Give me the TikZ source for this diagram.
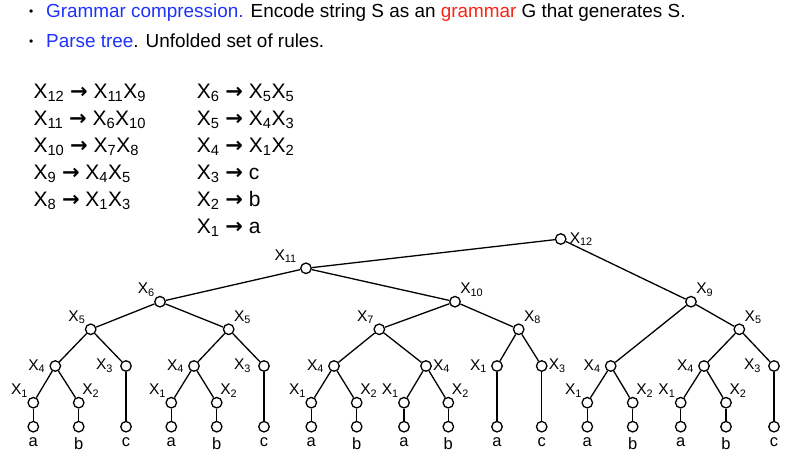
\documentclass[tikz,border=0pt]{standalone}
\usepackage{fontspec}
\setmainfont{Liberation Sans}
\newfontfamily\arrowfont{DejaVu Sans}
\usetikzlibrary{positioning}
\definecolor{termblue}{RGB}{30,50,250}
\definecolor{termred}{RGB}{250,35,20}
\newcommand{\xs}[1]{X\textsubscript{#1}}
\newcommand{\yields}{{\arrowfont\bfseries →}}

\begin{document}
\begin{tikzpicture}[
    x=1pt, y=-1pt,
    vertex/.style={circle, draw, line width=1.3pt, fill=white, minimum size=10.5pt, inner sep=0pt},
    every label/.style={font=\fontsize{15.5}{15.5}\selectfont, inner sep=1pt},
    leaf/.style={vertex, label={[label distance=3.5pt, font=\fontsize{16.5}{16.5}\selectfont]below:#1}},
    rules/.style={font=\fontsize{21}{27}\selectfont, anchor=base west, align=left, inner sep=0pt},
    headline/.style={font=\fontsize{18.9}{22}\selectfont, anchor=base west, inner sep=0pt},
    dot/.style={font=\fontsize{12}{12}\selectfont, anchor=base west, inner sep=0pt},
    edge/.style={line width=1.3pt}
]
\useasboundingbox (0,0) rectangle (795,470);

% Header lines
\node[dot] (b1) at (29,15.5) {•};
\node[headline] (h1) at (46,17.3) {{\color{termblue}Grammar compression.} Encode string S as an {\color{termred}grammar} G that generates S.};
\node[dot] (b2) at (29,45.9) {•};
\node[headline] (h2) at (46,47.7) {{\color{termblue}Parse tree}. Unfolded set of rules.};

% Rules (anchored at the baseline of the last line)
\node[rules] (rl) at (33.3,206.7) {
    \xs{12} \yields{} \xs{11}\xs{9}\\
    \xs{11} \yields{} \xs{6}\xs{10}\\
    \xs{10} \yields{} \xs{7}\xs{8}\\
    \xs{9} \yields{} \xs{4}\xs{5}\\
    \xs{8} \yields{} \xs{1}\xs{3}
};
\node[rules] (rr) at (196.7,233.3) {
    \xs{6} \yields{} \xs{5}\xs{5}\\
    \xs{5} \yields{} \xs{4}\xs{3}\\
    \xs{4} \yields{} \xs{1}\xs{2}\\
    \xs{3} \yields{} c\\
    \xs{2} \yields{} b\\
    \xs{1} \yields{} a
};

% Parse tree - upper levels
\node[vertex, label={[label distance=2pt]right:\xs{12}}] (n12) at (560.7,239) {};
\node[vertex, label={[xshift=-4pt]above left:\xs{11}}] (n11) at (306,268.3) {};
\node[vertex, label=above left:\xs{6}] (n6) at (160,301.7) {};
\node[vertex, label=above right:\xs{10}] (n10) at (455,301.7) {};
\node[vertex, label=above right:\xs{9}] (n9) at (691,301.7) {};
\node[vertex, label=above left:\xs{5}] (n5a) at (90.7,329.3) {};
\node[vertex, label=above right:\xs{5}] (n5b) at (228.7,329.3) {};
\node[vertex, label=above left:\xs{7}] (n7) at (379.3,329.3) {};
\node[vertex, label=above right:\xs{8}] (n8) at (518.7,329.3) {};
\node[vertex, label=above right:\xs{5}] (n5c) at (739.3,329.3) {};

% Parse tree - X4 / X3 level
\node[vertex, label={[label distance=3pt]left:\xs{4}}] (n4a) at (55.3,366) {};
\node[vertex, label={[label distance=6pt]left:\xs{3}}] (n3a) at (126,366) {};
\node[vertex, label={[label distance=3pt]left:\xs{4}}] (n4b) at (194,366) {};
\node[vertex, label={[label distance=6pt]left:\xs{3}}] (n3b) at (264,366) {};
\node[vertex, label={[label distance=3pt]left:\xs{4}}] (n4c) at (334,366) {};
\node[vertex, label=right:\xs{4}] (n4d) at (426,366) {};
\node[vertex, label={[label distance=3pt]left:\xs{1}}] (n1e) at (497,366) {};
\node[vertex, label=right:\xs{3}] (n3e) at (541.7,366) {};
\node[vertex, label={[label distance=3pt]left:\xs{4}}] (n4e) at (610.7,366) {};
\node[vertex, label={[label distance=3pt]left:\xs{4}}] (n4f) at (704,366) {};
\node[vertex, label={[label distance=6pt]left:\xs{3}}] (n3f) at (774,366) {};

% Parse tree - X1 / X2 level
\node[vertex, label=above left:\xs{1}] (n1a) at (33.3,402.7) {};
\node[vertex, label={[label distance=-1pt]60:\xs{2}}] (n2a) at (78.7,402.7) {};
\node[vertex, label=above left:\xs{1}] (n1b) at (171.3,402.7) {};
\node[vertex, label={[label distance=-1pt]60:\xs{2}}] (n2b) at (216.7,402.7) {};
\node[vertex, label=above left:\xs{1}] (n1c) at (311.3,402.7) {};
\node[vertex, label={[label distance=-1pt]60:\xs{2}}] (n2c) at (356.7,402.7) {};
\node[vertex, label=above left:\xs{1}] (n1d) at (404,402.7) {};
\node[vertex, label={[label distance=-1pt]60:\xs{2}}] (n2d) at (448.3,402.7) {};
\node[vertex, label=above left:\xs{1}] (n1f) at (587.3,402.7) {};
\node[vertex, label={[label distance=-1pt]60:\xs{2}}] (n2f) at (632.7,402.7) {};
\node[vertex, label=above left:\xs{1}] (n1g) at (680.7,402.7) {};
\node[vertex, label={[label distance=-1pt]60:\xs{2}}] (n2g) at (726,402.7) {};

% Edges
\draw[edge] (n12) -- (n11);
\draw[edge] (n12) -- (n9);
\draw[edge] (n11) -- (n6);
\draw[edge] (n11) -- (n10);
\draw[edge] (n6) -- (n5a);
\draw[edge] (n6) -- (n5b);
\draw[edge] (n10) -- (n7);
\draw[edge] (n10) -- (n8);
\draw[edge] (n9) -- (n4e);
\draw[edge] (n9) -- (n5c);
\draw[edge] (n5a) -- (n4a);
\draw[edge] (n5a) -- (n3a);
\draw[edge] (n5b) -- (n4b);
\draw[edge] (n5b) -- (n3b);
\draw[edge] (n7) -- (n4c);
\draw[edge] (n7) -- (n4d);
\draw[edge] (n8) -- (n1e);
\draw[edge] (n8) -- (n3e);
\draw[edge] (n5c) -- (n4f);
\draw[edge] (n5c) -- (n3f);
\draw[edge] (n4a) -- (n1a);
\draw[edge] (n4a) -- (n2a);
\draw[edge] (n4b) -- (n1b);
\draw[edge] (n4b) -- (n2b);
\draw[edge] (n4c) -- (n1c);
\draw[edge] (n4c) -- (n2c);
\draw[edge] (n4d) -- (n1d);
\draw[edge] (n4d) -- (n2d);
\draw[edge] (n4e) -- (n1f);
\draw[edge] (n4e) -- (n2f);
\draw[edge] (n4f) -- (n1g);
\draw[edge] (n4f) -- (n2g);

% Leaves
\coordinate (base) at (0,426.7);
\foreach \p/\c in {n1a/a, n2a/b, n3a/c, n1b/a, n2b/b, n3b/c, n1c/a, n2c/b,
                   n1d/a, n2d/b, n1e/a, n3e/c, n1f/a, n2f/b, n1g/a, n2g/b, n3f/c}
{
    \node[leaf=\c] (l\p) at (\p |- base) {};
    \draw[edge] (\p) -- (l\p);
}

\end{tikzpicture}
\end{document}
